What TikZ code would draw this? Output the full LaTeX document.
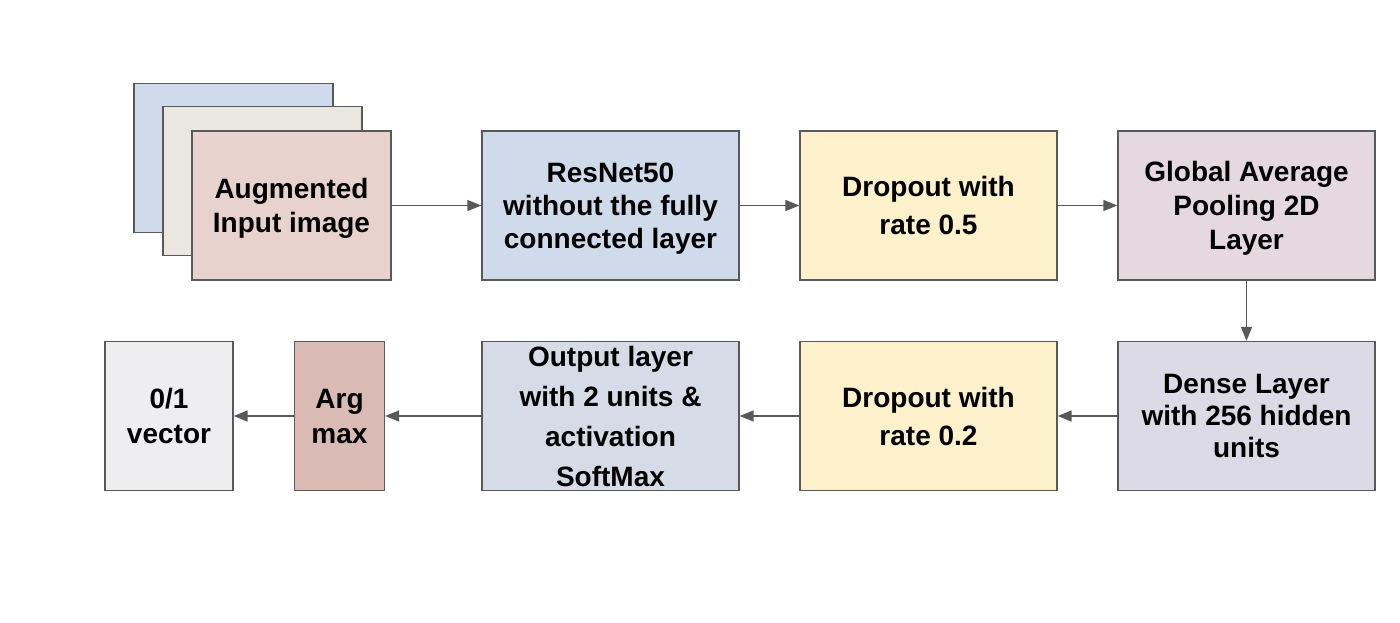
\documentclass[tikz,border=0pt]{standalone}
\usepackage{fontspec}
\setmainfont{Liberation Sans}
\usetikzlibrary{arrows.meta}
\definecolor{edge}{HTML}{595959}
\definecolor{cblue}{HTML}{CFDBEA}
\definecolor{cmix}{HTML}{EAE6E0}
\definecolor{cpink}{HTML}{E8D2CD}
\definecolor{cyellow}{HTML}{FDF1CC}
\definecolor{cmauve}{HTML}{E5D8DE}
\definecolor{clav}{HTML}{DBDAE6}
\definecolor{cargmax}{HTML}{D9BAB5}
\definecolor{cgrey}{HTML}{EEEEF1}
\begin{document}
\begin{tikzpicture}[x=1pt,y=-1pt,
  box/.style={draw=edge, line width=1.3pt, inner sep=0pt, align=center,
    text depth=0pt, ls=33},
  ls/.style={font=\fontsize{28}{#1}\selectfont\bfseries},
  big/.style={box, minimum width=257pt, minimum height=149pt},
  img/.style={box, minimum width=199pt, minimum height=149pt},
  arr/.style={draw=edge, line width=1.4pt, -{Triangle[length=14pt,width=11pt]}}]
\fill[white] (0,0) rectangle (1400,622);
\useasboundingbox (0,0) rectangle (1400,622);
% stacked images
\node[img, fill=cblue] (img1) at (233.5,158) {};
\node[img, fill=cmix] (img2) at (262.5,181) {};
\node[img, fill=cpink, ls=34] (img3) at (291.5,205.5) {Augmented\\Input image};
% top row
\node[big, fill=cblue] (resnet) at (610.5,205.5) {ResNet50\\without the fully\\connected layer};
\node[big, fill=cyellow, ls=38] (drop1) at (928.5,205.5) {Dropout with\\rate 0.5};
\node[big, fill=cmauve, ls=34] (gap) at (1246.5,205.5) {Global Average\\Pooling 2D\\Layer};
% bottom row
\node[big, fill=clav, ls=32] (dense) at (1246.5,416) {Dense Layer\\with 256 hidden\\units};
\node[big, fill=cyellow, ls=38] (drop2) at (928.5,416) {Dropout with\\rate 0.2};
\node[big, fill=clav!70!cblue, ls=40] (out) at (610.5,416) {Output layer\\with 2 units \&\\activation\\SoftMax};
\node[box, fill=cargmax, ls=35, minimum width=90pt, minimum height=149pt] (argmax) at (339.5,416) {Arg\\max};
\node[box, fill=cgrey, ls=35, minimum width=128pt, minimum height=149pt] (vec) at (169,416) {0/1\\vector};
% connectors
\draw[arr] (img3) -- (resnet);
\draw[arr] (resnet) -- (drop1);
\draw[arr] (drop1) -- (gap);
\draw[arr] (gap) -- (dense);
\draw[arr] (dense) -- (drop2);
\draw[arr] (drop2) -- (out);
\draw[arr] (out) -- (argmax);
\draw[arr] (argmax) -- (vec);
\end{tikzpicture}
\end{document}
